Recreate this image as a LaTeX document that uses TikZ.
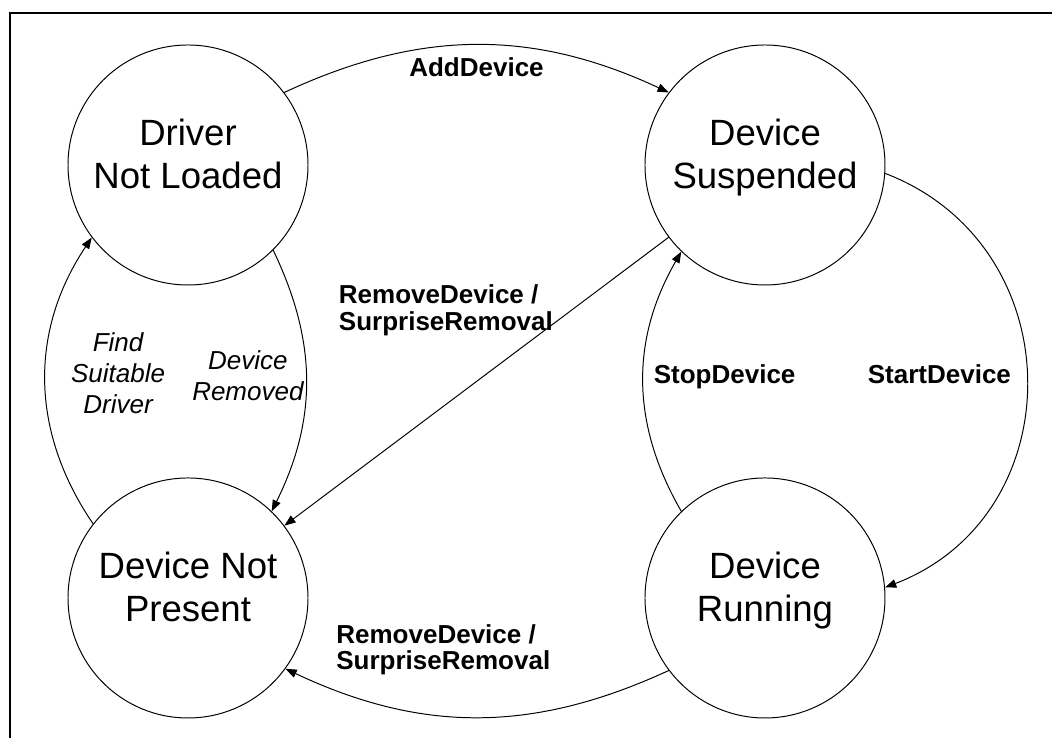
\documentclass[tikz,border=0pt]{standalone}
\usepackage{fontspec}
\setmainfont{Liberation Sans}
\usetikzlibrary{arrows.meta,positioning}

\begin{document}
\begin{tikzpicture}[
    state/.style = {draw, circle, minimum size = 6cm, inner sep = 0pt,
      line width = .7pt, align = center, text height = 2.4cm, text depth = 1.2cm,
      font = \fontsize{26}{31.2}\selectfont},
    trans/.style = {line width = .7pt, -{Triangle[length = 8pt, width = 6pt]}},
    act/.style = {inner sep = 0pt, align = left,
      font = \fontsize{18.5}{19}\selectfont\bfseries},
    cond/.style = {inner sep = 0pt, align = center,
      font = \fontsize{18.5}{22}\selectfont\itshape}
  ]
  \useasboundingbox (0,0) rectangle (26.3,18.45);
  \draw [line width = 2pt] (.25,0) -- (.25,18.125) -- (26.3,18.125);

  % the four states
  \node [state] (drv) at (4.7,14.325) {Driver\\Not Loaded};
  \node [state, right = 8.4cm of drv] (susp) {Device\\Suspended};
  \node [state, below = 4.8cm of drv] (nopr) {Device Not\\Present};
  \node [state, below = 4.8cm of susp] (run) {Device\\Running};

  % transitions
  \draw [trans] (drv.37) to[bend left = 25]
    node [act, midway, below = 8.5pt] {AddDevice} (susp.143);
  \draw [trans] (susp.-4) to[bend left = 69, looseness = 1.25]
    node [act, midway, left = .375cm, yshift = 4.5pt] {StartDevice} (run.5);
  \draw [trans] (run.134) to[bend left = 30]
    node [act, midway, right = .25cm, yshift = 3.4pt] {StopDevice} (susp.-134);
  \draw [trans] (susp) --
    node [act, pos = .3, anchor = south east, yshift = -.31cm]
      {RemoveDevice /\\SurpriseRemoval} (nopr);
  \draw [trans] (drv.-45) to[bend left = 26]
    node [cond, midway, left = .05cm, yshift = 4pt] {Device\\Removed} (nopr.46);
  \draw [trans] (nopr.142) to[bend left = 34]
    node [cond, midway, right = .63cm, yshift = 5.3pt] {Find\\Suitable\\Driver} (drv.-143);
  \draw [trans] (run.-143) to[bend left = 25]
    node [act, midway, above = 1.04cm, xshift = -.84cm]
      {RemoveDevice /\\SurpriseRemoval} (nopr.-36);
\end{tikzpicture}
\end{document}
